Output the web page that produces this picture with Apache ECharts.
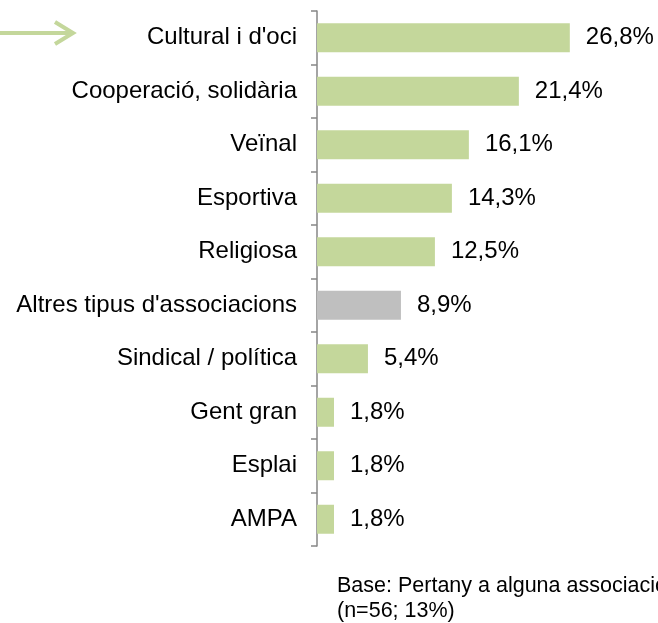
<!DOCTYPE html>
<html>
	<head>
		<meta charset="utf-8" />
		<title>Tipus d'associació</title>
		<script src="https://cdn.jsdelivr.net/npm/echarts@6/dist/echarts.min.js"></script>
		<style>
			* {
				margin: 0;
				padding: 0;
				box-sizing: border-box;
			}
			body {
				background: #fff;
			}
		</style>
	</head>
	<body>
		<div id="main" style="width: 658px; height: 623px"></div>
		<script>
			// dades
			var categories = [
				"Cultural i d'oci",
				'Cooperació, solidària',
				'Veïnal',
				'Esportiva',
				'Religiosa',
				"Altres tipus d'associacions",
				'Sindical / política',
				'Gent gran',
				'Esplai',
				'AMPA',
			];
			var values = [26.8, 21.4, 16.1, 14.3, 12.5, 8.9, 5.4, 1.8, 1.8, 1.8];
			var highlight = [false, false, false, false, false, true, false, false, false, false];
			var footnote = ['Base: Pertany a alguna associació', '(n=56; 13%)'];

			var green = '#c4d79b';
			var grey = '#bfbfbf';
			var font = "'Liberation Sans', Arial, sans-serif";

			var myChart = echarts.init(document.getElementById('main'));
			var option;
			option = {
				animation: false,
				grid: {
					left: 317,
					right: 58,
					top: 11,
					bottom: 77,
				},
				xAxis: {
					type: 'value',
					min: 0,
					max: 30,
					show: false,
				},
				yAxis: {
					type: 'category',
					inverse: true,
					data: categories,
					axisLine: {lineStyle: {color: '#868686', width: 1.5}},
					axisTick: {show: true, length: 6, lineStyle: {color: '#868686', width: 1.5}},
					axisLabel: {
						margin: 20,
						color: '#000',
						fontSize: 24,
						fontFamily: font,
					},
				},
				series: [
					{
						type: 'bar',
						barWidth: 29,
						data: values.map(function (v, i) {
							return {value: v, itemStyle: {color: highlight[i] ? grey : green}};
						}),
						label: {
							show: true,
							position: 'right',
							distance: 16,
							color: '#000',
							fontSize: 24,
							fontFamily: font,
							formatter: function (p) {
								return p.value.toFixed(1).replace('.', ',') + '%';
							},
						},
					},
				],
				graphic: [
					// fletxa
					{
						type: 'polyline',
						shape: {points: [[0, 33], [73, 33]]},
						style: {stroke: green, lineWidth: 4, fill: null},
					},
					{
						type: 'polyline',
						shape: {points: [[55, 22], [73, 33], [55, 44]]},
						style: {stroke: green, lineWidth: 4, fill: null},
					},
					{
						type: 'text',
						left: 337,
						top: 574,
						style: {
							text: footnote.join('\n'),
							fontSize: 21.5,
							lineHeight: 25,
							fill: '#000',
							fontFamily: font,
						},
					},
				],
			};
			option && myChart.setOption(option);
		</script>
	</body>
</html>
